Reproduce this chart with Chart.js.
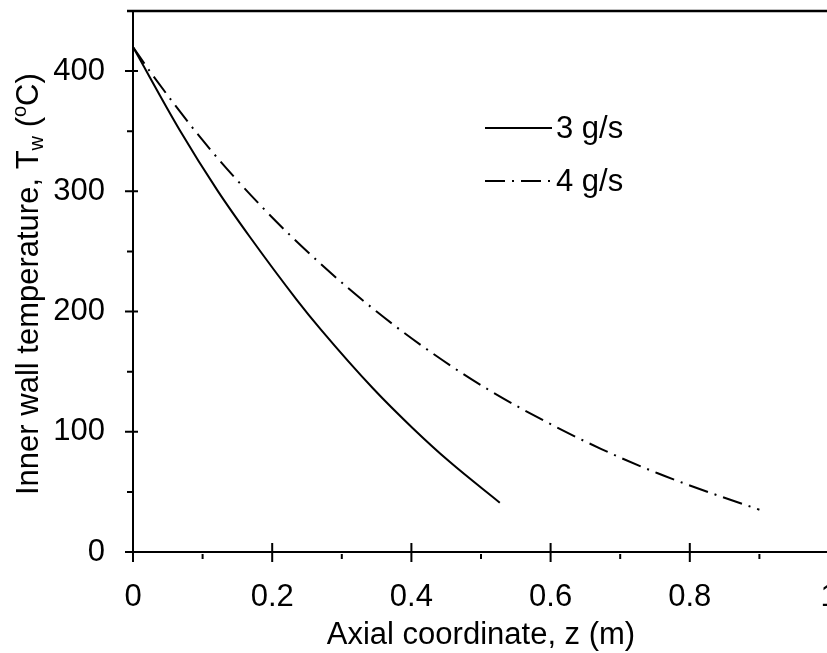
<!DOCTYPE html>
<html>
<head>
<meta charset="utf-8">
<title>Inner wall temperature</title>
<script src="https://cdn.jsdelivr.net/npm/chart.js@4.4.1/dist/chart.umd.min.js"></script>
<style>
  html, body { margin: 0; padding: 0; background: #fff; overflow: hidden; }
  .chart-wrap { position: relative; width: 860px; height: 653px; }
</style>
</head>
<body>
<div class="chart-wrap"><canvas id="chart"></canvas></div>
<script>
// axial coordinate z (m) and inner wall temperature (°C) for each flow rate
const zFlow3 = [0, 0.067, 0.121, 0.168, 0.235, 0.27, 0.345, 0.402, 0.455, 0.527];
const tFlow3 = [420, 351, 301, 262, 210, 185, 136, 103, 75, 41];
const zFlow4 = [0, 0.024, 0.105, 0.187, 0.269, 0.35, 0.431, 0.512, 0.593, 0.673, 0.753, 0.833, 0.9];
const tFlow4 = [420, 400, 339, 286, 240, 200, 165, 134.5, 108.5, 85.6, 65.7, 48.5, 35.2];
const seriesLabels = ['3 g/s', '4 g/s'];

const xTicks = [0, 0.2, 0.4, 0.6, 0.8, 1];
const xMinorTicks = [0.1, 0.3, 0.5, 0.7, 0.9];
const yTicks = [0, 100, 200, 300, 400];
const yMinorTicks = [50, 150, 250, 350];

const FONT = 'Arial, "Liberation Sans", sans-serif';
const tickFont = { family: FONT, size: 31 };
const dashDot = [20, 7, 2, 7];

const toPoints = (xs, ys) => xs.map((x, i) => ({ x: x, y: ys[i] }));

// axes with crossing major ticks, outside minor ticks, top frame line,
// the y title with sub/superscripts and the in-plot legend
const framePlugin = {
  id: 'frame',
  afterDraw(chart) {
    const ctx = chart.ctx;
    const xs = chart.scales.x, ys = chart.scales.y;
    const x0 = xs.getPixelForValue(0);
    const y0 = ys.getPixelForValue(0);
    const yTop = ys.getPixelForValue(450);

    ctx.save();
    ctx.strokeStyle = '#000';
    ctx.lineCap = 'butt';

    // axis lines
    ctx.lineWidth = 2;
    ctx.beginPath();
    ctx.moveTo(x0 - 8, y0);
    ctx.lineTo(chart.width, y0);
    ctx.moveTo(x0, y0);
    ctx.lineTo(x0, yTop);
    ctx.stroke();

    // top frame
    ctx.lineWidth = 2.6;
    ctx.beginPath();
    ctx.moveTo(x0 - 6, yTop);
    ctx.lineTo(chart.width, yTop);
    ctx.stroke();

    // ticks
    ctx.lineWidth = 2;
    ctx.beginPath();
    yTicks.forEach(v => {
      const p = ys.getPixelForValue(v);
      ctx.moveTo(x0 - 8, p);
      ctx.lineTo(x0 + 5, p);
    });
    yMinorTicks.forEach(v => {
      const p = ys.getPixelForValue(v);
      ctx.moveTo(x0 - 6, p);
      ctx.lineTo(x0, p);
    });
    xTicks.forEach(v => {
      const p = xs.getPixelForValue(v);
      ctx.moveTo(p, y0 - 9);
      ctx.lineTo(p, y0 + 10);
    });
    xMinorTicks.forEach(v => {
      const p = xs.getPixelForValue(v);
      ctx.moveTo(p, y0 + 2);
      ctx.lineTo(p, y0 + 7);
    });
    ctx.stroke();

    // y axis title, rotated, with subscript w and superscript o
    const big = '31px ' + FONT, small = '20px ' + FONT;
    const parts = [
      { t: 'Inner wall temperature, T', f: big, dy: 0 },
      { t: 'w', f: small, dy: 5 },
      { t: ' (', f: big, dy: 0 },
      { t: 'o', f: small, dy: -12 },
      { t: 'C)', f: big, dy: 0 }
    ];
    let total = 0;
    parts.forEach(p => { ctx.font = p.f; p.w = ctx.measureText(p.t).width; total += p.w; });
    ctx.translate(38, 495);
    ctx.rotate(-Math.PI / 2);
    ctx.fillStyle = '#000';
    ctx.textBaseline = 'alphabetic';
    ctx.textAlign = 'left';
    let cx = 0;
    parts.forEach(p => {
      ctx.font = p.f;
      ctx.fillText(p.t, cx, p.dy);
      cx += p.w;
    });
    ctx.setTransform(1, 0, 0, 1, 0, 0);

    // legend
    const legendRows = [128, 181];
    ctx.font = big;
    ctx.textBaseline = 'middle';
    chart.data.datasets.forEach((ds, i) => {
      const y = legendRows[i];
      ctx.lineWidth = 2;
      ctx.setLineDash(ds.borderDash || []);
      ctx.beginPath();
      ctx.moveTo(485, y);
      ctx.lineTo(552, y);
      ctx.stroke();
      ctx.setLineDash([]);
      ctx.fillText(ds.label, 556, y + 1);
    });
    ctx.restore();
  }
};

new Chart(document.getElementById('chart'), {
  type: 'line',
  data: {
    datasets: [
      {
        label: seriesLabels[0],
        data: toPoints(zFlow3, tFlow3),
        borderColor: '#000',
        borderWidth: 2,
        pointRadius: 0,
        cubicInterpolationMode: 'monotone',
        fill: false
      },
      {
        label: seriesLabels[1],
        data: toPoints(zFlow4, tFlow4),
        borderColor: '#000',
        borderWidth: 2,
        borderDash: dashDot,
        pointRadius: 0,
        cubicInterpolationMode: 'monotone',
        fill: false
      }
    ]
  },
  options: {
    responsive: true,
    maintainAspectRatio: false,
    animation: false,
    layout: { padding: { top: 11, right: 31, left: 0, bottom: 0 } },
    plugins: { legend: { display: false }, tooltip: { enabled: false } },
    scales: {
      x: {
        type: 'linear',
        min: 0,
        max: 1,
        afterBuildTicks: s => { s.ticks = xTicks.map(v => ({ value: v })); },
        afterFit: s => { s.height = 101; s.paddingLeft = 0; s.paddingRight = 0; },
        grid: { display: false },
        border: { display: false },
        ticks: {
          font: tickFont,
          color: '#000',
          padding: 19,
          maxRotation: 0,
          autoSkip: false,
          callback: v => String(v)
        },
        title: {
          display: true,
          text: 'Axial coordinate, z (m)',
          font: tickFont,
          color: '#000',
          padding: { top: 0, bottom: -1 }
        }
      },
      y: {
        type: 'linear',
        min: 0,
        max: 450,
        afterBuildTicks: s => { s.ticks = yTicks.map(v => ({ value: v })); },
        afterFit: s => { s.width = 133; s.paddingTop = 0; s.paddingBottom = 0; },
        grid: { display: false },
        border: { display: false },
        ticks: {
          font: tickFont,
          color: '#000',
          padding: 20,
          autoSkip: false,
          callback: v => String(v)
        }
      }
    }
  },
  plugins: [framePlugin]
});
</script>
</body>
</html>
